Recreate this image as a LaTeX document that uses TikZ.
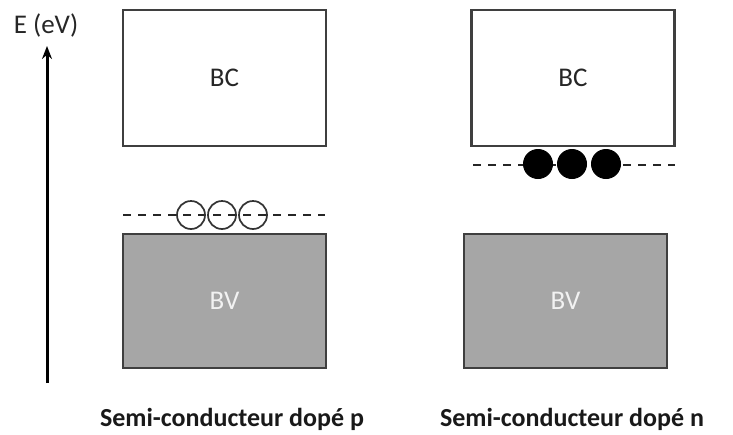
\documentclass[tikz,border=0pt]{standalone}
\usepackage{fontspec}
\setmainfont{Carlito}
\usetikzlibrary{arrows.meta}
\definecolor{bordergray}{HTML}{3F3F3F}
\definecolor{bvfill}{HTML}{A6A6A6}
\definecolor{bctext}{HTML}{262626}
\tikzset{
  bcbox/.style={draw=bordergray, line width=2.4pt, fill=white, minimum width=203pt, minimum height=136pt, inner sep=0pt, text=bctext, font=\fontsize{27}{32}\selectfont},
  bvbox/.style={draw=bordergray, line width=2.4pt, fill=bvfill, minimum width=203pt, minimum height=134pt, inner sep=0pt, text=white!95!black, font=\fontsize{27}{32}\selectfont},
  levelline/.style={line width=2.2pt, dash pattern=on 8pt off 7pt, draw=black!85},
  hole/.style={circle, draw=black!80, line width=1.7pt, minimum size=28pt, inner sep=0pt},
  electron/.style={circle, fill=black, draw=black, line width=1pt, minimum size=29pt, inner sep=0pt},
  caption/.style={font=\bfseries\fontsize{26}{30}\selectfont, text=black!90, inner sep=0pt},
}
\begin{document}
\begin{tikzpicture}[x=1pt,y=-1pt]
\useasboundingbox (0,0) rectangle (733,434);
% energy axis
\coordinate (axbot) at (47,383);
\coordinate (axtop) at (47,46);
\draw[line width=3pt, -{Stealth[length=13pt,width=10pt]}] (axbot) -- (axtop);
\node[font=\fontsize{27}{32}\selectfont, text=bctext] (elabel) at (46,25) {E (eV)};
% p-doped
\node[bcbox] (bcp) at (224.5,78) {BC};
\node[bvbox] (bvp) at (224.5,301) {BV};
\coordinate (pl1) at (123,215);
\coordinate (pl2) at (325,215);
\draw[levelline] (pl1) -- (pl2);
\node[hole] (h1) at (191,215) {};
\node[hole] (h2) at (222,215) {};
\node[hole] (h3) at (253,215) {};
\node[caption] (capp) at (232,419) {Semi-conducteur dopé p};
% n-doped
\node[bcbox] (bcn) at (573,78) {BC};
\node[bvbox] (bvn) at (565.5,301) {BV};
\coordinate (nl1) at (473,165);
\coordinate (nl2) at (675,165);
\draw[levelline] (nl1) -- (nl2);
\node[electron] (e1) at (538,164) {};
\node[electron] (e2) at (572,164) {};
\node[electron] (e3) at (606,164) {};
\node[caption] (capn) at (572,419) {Semi-conducteur dopé n};
\end{tikzpicture}
\end{document}
